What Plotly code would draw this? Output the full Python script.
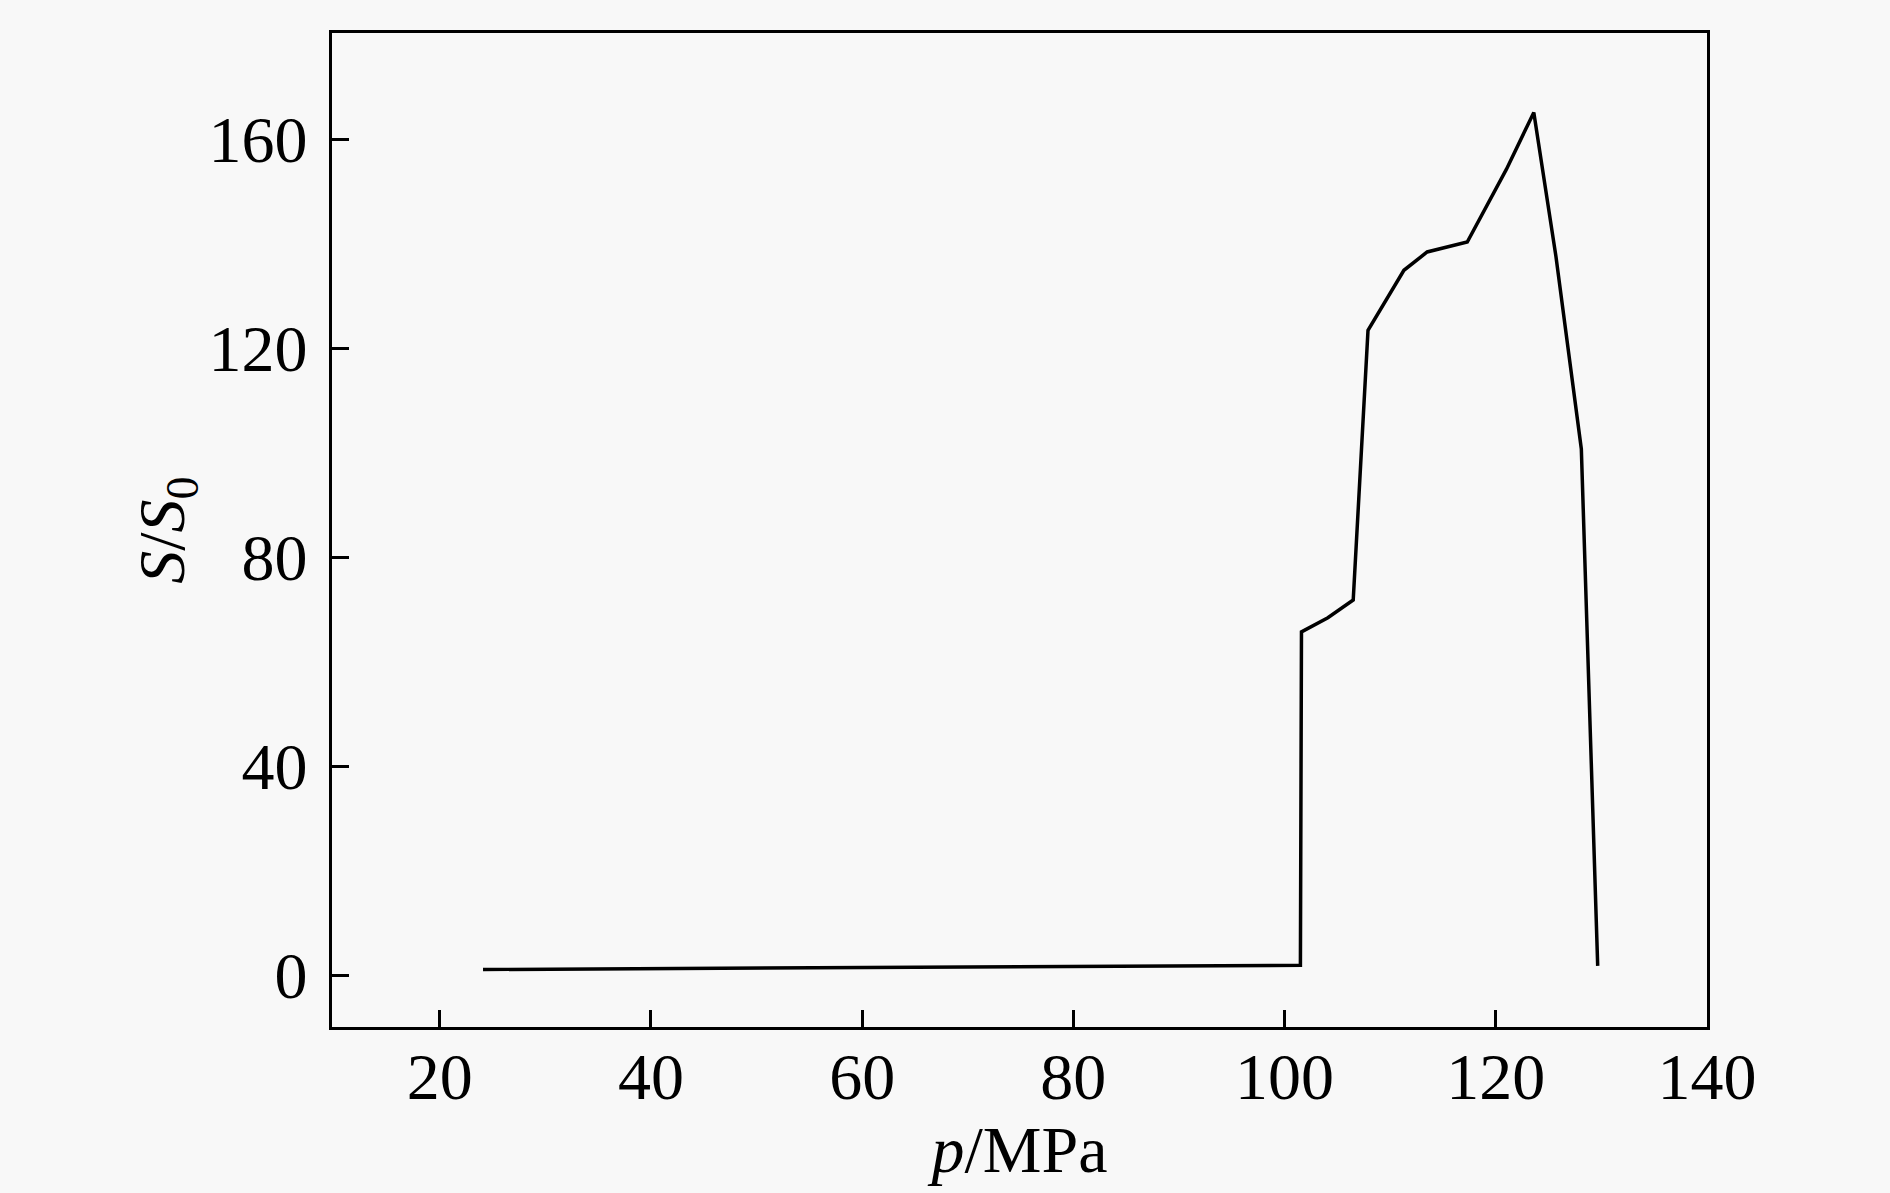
import plotly.graph_objects as go

# Data
p_mpa = [24.1, 101.5, 101.6, 104.1, 106.5, 107.9, 111.3, 113.5, 117.3, 121.0, 123.6, 125.7, 128.1, 129.65]
s_ratio = [1.1, 1.9, 65.7, 68.4, 71.8, 123.4, 134.9, 138.4, 140.3, 154.2, 165.1, 137.5, 100.7, 1.8]

x_ticks = [20, 40, 60, 80, 100, 120, 140]
y_ticks = [0, 40, 80, 120, 160]

FONT = "Liberation Serif, Times New Roman, serif"
BG = "#f8f8f8"

fig = go.Figure()
fig.add_trace(go.Scatter(
    x=p_mpa, y=s_ratio, mode="lines",
    line=dict(color="black", width=3.5),
    showlegend=False,
))

axis_common = dict(
    showline=True, linecolor="black", linewidth=3.4, mirror=True,
    ticks="inside", ticklen=17, tickwidth=3, tickcolor="black",
    showgrid=False, zeroline=False,
    tickfont=dict(family=FONT, size=66, color="black"),
)

fig.update_xaxes(
    range=[9.8, 140.0], tickvals=x_ticks, ticktext=[str(v) for v in x_ticks],
    title=dict(text="<i>p</i>/MPa", font=dict(family=FONT, size=66, color="black"), standoff=8),
    ticklabelstandoff=-10,
    **axis_common,
)
fig.update_yaxes(
    range=[-9.9, 180.3], tickvals=y_ticks, ticktext=[str(v) for v in y_ticks],
    title=dict(text="<i>S</i>/<i>S</i><sub>0</sub>", font=dict(family=FONT, size=66, color="black"), standoff=3),
    ticklabelstandoff=8,
    **axis_common,
)

fig.update_layout(
    width=1890, height=1193,
    margin=dict(l=332, r=183, t=33, b=166, autoexpand=False),
    paper_bgcolor=BG, plot_bgcolor=BG,
)

fig.write_html(
    "out.html",
    config={"displayModeBar": False},
    post_script="document.body.style.margin='0';document.body.style.background='#f8f8f8';document.body.style.overflow='hidden';",
)
